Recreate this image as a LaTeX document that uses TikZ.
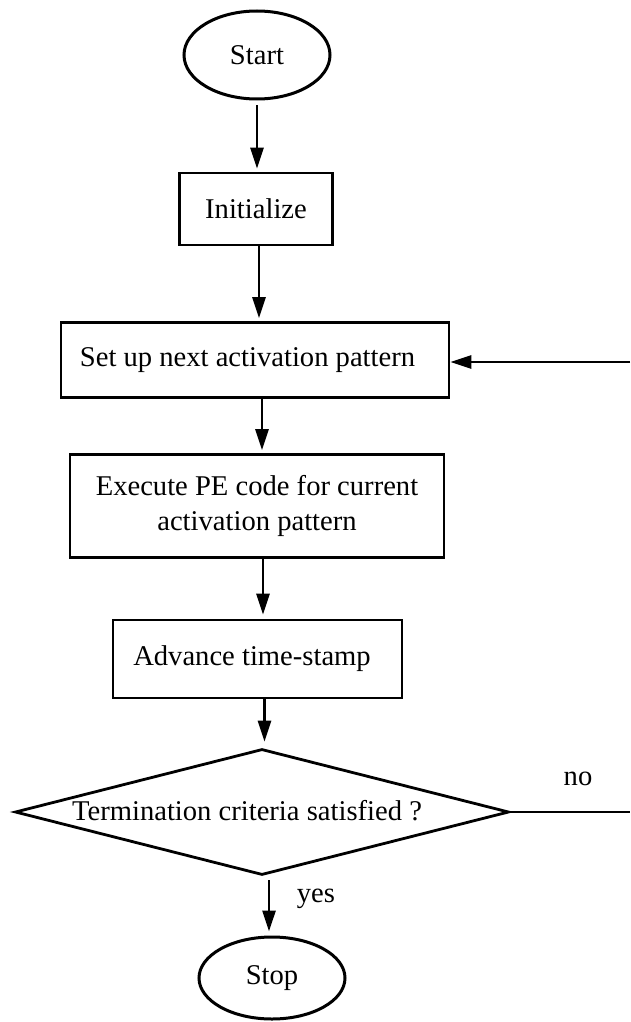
\documentclass[tikz,border=0pt]{standalone}
\usepackage{fontspec}
\setmainfont{Liberation Serif}
\usetikzlibrary{shapes.geometric,arrows.meta}
\begin{document}
\begin{tikzpicture}[x=1pt,y=-1pt,
  every node/.style={font=\fontsize{28.6}{35}\selectfont, inner sep=0pt},
  term/.style={draw, ellipse, line width=3pt, minimum width=146pt, minimum height=88pt},
  proc/.style={draw, rectangle, line width=2.8pt},
  dec/.style={draw, diamond, line width=2.8pt, minimum width=494pt, minimum height=126pt, aspect=3.9},
  flow/.style={line width=2.8pt, -{Triangle[length=21pt,width=13pt]}},
  plain/.style={line width=2.8pt}]
\useasboundingbox (0,0) rectangle (630,1022);
\node[term] (start) at (257,55) {Start};
\node[proc, minimum width=153pt, minimum height=72pt] (init) at (256,209) {Initialize};
\node[proc, minimum width=388pt, minimum height=75pt] (setup) at (255,360) {Set up next activation pattern\hspace*{15pt}};
\node[proc, minimum width=374pt, minimum height=103pt, align=center] (exec) at (257,506) {Execute PE code for current\\activation pattern};
\node[proc, minimum width=289pt, minimum height=78pt] (adv) at (257.5,659) {Advance time-stamp\hspace*{11pt}};
\node[dec] (term) at (262,812) {\raisebox{4pt}{Termination criteria satisfied ?}\hspace*{30pt}};
\node[term, minimum height=82pt] (stop) at (272,978) {Stop};
\node (no) at (578,779) {no};
\node (yes) at (316,899) {yes};
\coordinate (r1) at (630,812);
\coordinate (r2) at (630,362);
\draw[flow, shorten <=5pt, shorten >=3pt] (start.south) -- (start.south |- init.north);
\draw[flow, shorten >=3pt] (init.south) ++(3,0) coordinate (i1) (i1) -- (i1 |- setup.north);
\draw[flow, shorten >=3pt] (setup.south) ++(7,0) coordinate (s1) (s1) -- (s1 |- exec.north);
\draw[flow, shorten >=4pt] (exec.south) ++(6,0) coordinate (e1) (e1) -- (e1 |- adv.north);
\draw[flow, shorten >=6pt] (adv.south) ++(7,0) coordinate (a1) (a1) -- (a1 |- term.north);
\draw[flow, shorten <=4pt, shorten >=4pt] (term.south) ++(7,0) coordinate (t1) (t1) -- (t1 |- stop.north);
\draw[plain] (term.east) -- (r1);
\draw[flow] (r2) -- (setup.east |- r2);
\end{tikzpicture}
\end{document}
